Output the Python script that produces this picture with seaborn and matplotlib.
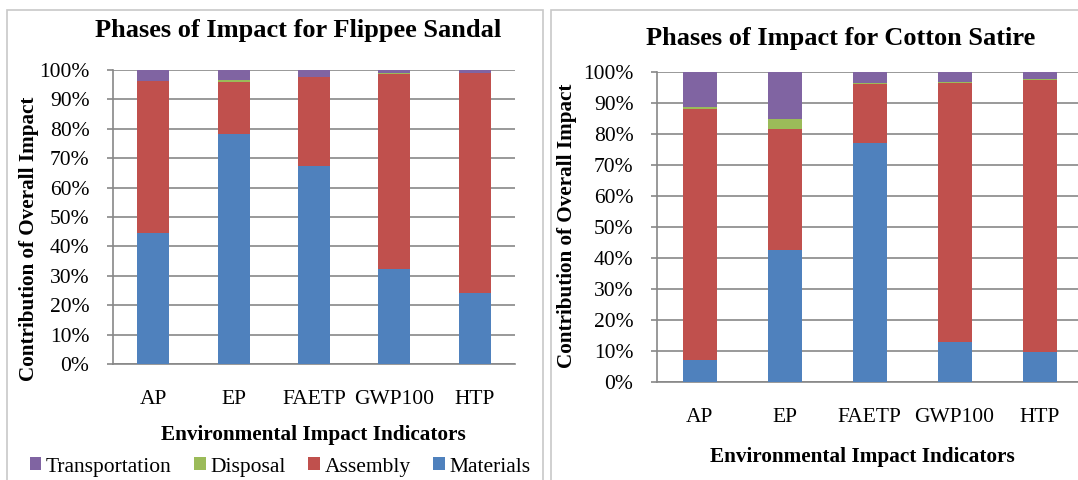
import matplotlib
matplotlib.use('Agg')
import matplotlib.pyplot as plt
import seaborn as sns
import numpy as np
import pandas as pd
from matplotlib.patches import Rectangle, Patch
from matplotlib.ticker import PercentFormatter, FixedLocator, MultipleLocator

categories = ['AP', 'EP', 'FAETP', 'GWP100', 'HTP']
phases = ['Materials', 'Assembly', 'Disposal', 'Transportation']

sandal_materials = [44.6, 78.1, 67.2, 32.3, 24.0]
sandal_assembly = [51.7, 17.8, 30.4, 66.3, 75.0]
sandal_disposal = [0.1, 0.6, 0.1, 0.4, 0.1]
sandal_transport = [3.6, 3.5, 2.3, 1.0, 0.9]

cotton_materials = [7.2, 42.7, 77.1, 13.0, 9.7]
cotton_assembly = [81.0, 38.9, 19.1, 83.5, 87.7]
cotton_disposal = [0.4, 3.1, 0.1, 0.3, 0.2]
cotton_transport = [11.4, 15.3, 3.7, 3.2, 2.4]

colors = {'Materials': '#4F81BD', 'Assembly': '#C0504D',
          'Disposal': '#9BBB59', 'Transportation': '#8064A2'}

sns.set_style('white')
plt.rcParams['font.family'] = ['Liberation Serif', 'DejaVu Serif']
plt.rcParams['text.color'] = 'black'
plt.rcParams['axes.labelcolor'] = 'black'

W, H = 1078, 480
fig = plt.figure(figsize=(W / 100, H / 100), dpi=100)

GRID = '#878787'
TICKFS = 15.5


def fx(px):
    return px / W


def fy(py):
    return 1 - py / H


def draw(ax, series):
    df = pd.DataFrame({'cat': categories})
    cum = np.zeros(len(categories))
    cums = {}
    for p in phases:
        cum = cum + np.array(series[p])
        cums[p] = cum.copy()
    for p in reversed(phases):
        df['v'] = cums[p]
        sns.barplot(data=df, x='cat', y='v', order=categories, color=colors[p],
                    saturation=1, width=0.4, ax=ax, edgecolor='none', zorder=3)
    ax.set_xlim(-0.5, len(categories) - 0.5)
    ax.set_ylim(0, 100)
    ax.yaxis.set_major_locator(MultipleLocator(10))
    ax.yaxis.set_major_formatter(PercentFormatter(decimals=0))
    ax.grid(axis='y', color=GRID, linewidth=1.2, zorder=0)
    ax.set_axisbelow(True)
    for s in ['top', 'right']:
        ax.spines[s].set_visible(False)
    for s in ['left', 'bottom']:
        ax.spines[s].set_color(GRID)
        ax.spines[s].set_linewidth(1.2)
    ax.xaxis.set_minor_locator(FixedLocator(np.arange(-0.5, len(categories), 1.0)))
    ax.tick_params(axis='x', which='major', length=0, pad=19, labelsize=TICKFS,
                   labelcolor='black')
    ax.tick_params(axis='x', which='minor', length=4, width=1.2, color=GRID, direction='out')
    ax.tick_params(axis='y', which='major', length=4, width=1.2, color=GRID,
                   direction='out', pad=13, labelsize=TICKFS, left=True,
                   labelcolor='black')
    ax.set_xlabel('')
    ax.set_ylabel('')


# panel borders
fig.patches.append(Rectangle((fx(7), fy(490)), fx(543) - fx(7), fy(10) - fy(490),
                             transform=fig.transFigure, fill=False,
                             edgecolor='#C8C8C8', linewidth=1.2))
fig.patches.append(Rectangle((fx(551), fy(490)), fx(1090) - fx(551), fy(10) - fy(490),
                             transform=fig.transFigure, fill=False,
                             edgecolor='#C8C8C8', linewidth=1.2))

ax1 = fig.add_axes([fx(113), fy(364), fx(515) - fx(113), fy(70) - fy(364)])
draw(ax1, {'Materials': sandal_materials, 'Assembly': sandal_assembly,
           'Disposal': sandal_disposal, 'Transportation': sandal_transport})

ax2 = fig.add_axes([fx(657), fy(382), fx(1082) - fx(657), fy(72) - fy(382)])
draw(ax2, {'Materials': cotton_materials, 'Assembly': cotton_assembly,
           'Disposal': cotton_disposal, 'Transportation': cotton_transport})

bold = dict(fontweight='bold', ha='center', va='center', color='black')
fig.text(fx(298), fy(31), 'Phases of Impact for Flippee Sandal', fontsize=19, **bold)
fig.text(fx(841), fy(38), 'Phases of Impact for Cotton Satire', fontsize=19, **bold)
fig.text(fx(313), fy(435), 'Environmental Impact Indicators', fontsize=15.3, **bold)
fig.text(fx(862), fy(457), 'Environmental Impact Indicators', fontsize=15.3, **bold)
fig.text(fx(29.5), fy(239), 'Contribution of Overall Impact', fontsize=15.2,
         rotation=90, **bold)
fig.text(fx(567), fy(226), 'Contribution of Overall Impact', fontsize=15.2,
         rotation=90, **bold)

handles = [Patch(facecolor=colors[p], edgecolor='none') for p in
           ['Transportation', 'Disposal', 'Assembly', 'Materials']]
labels = ['Transportation', 'Disposal', 'Assembly', 'Materials']
fig.legend(handles, labels, loc='center', bbox_to_anchor=(fx(280), fy(467)),
           ncol=4, frameon=False, fontsize=TICKFS, handlelength=0.55,
           handleheight=0.55, handletextpad=0.2, columnspacing=1.05,
           borderpad=0, borderaxespad=0)

fig.savefig('out.png', dpi=100)
